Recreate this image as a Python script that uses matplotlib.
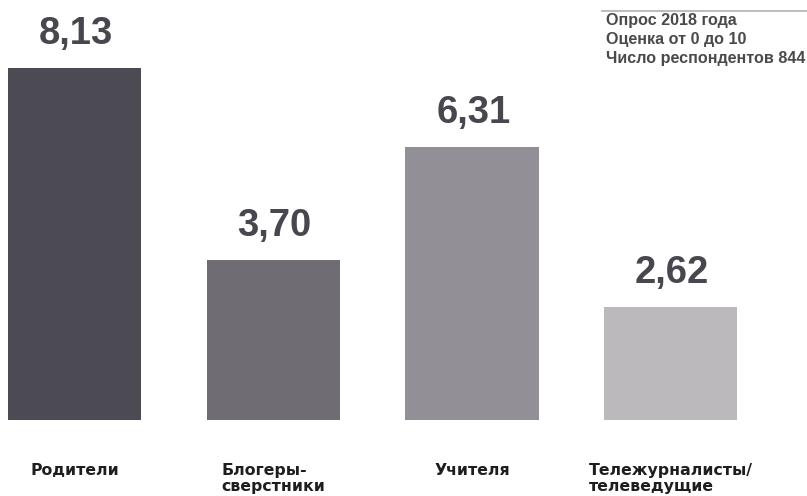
import matplotlib
matplotlib.use("Agg")
import matplotlib.pyplot as plt
from matplotlib.lines import Line2D

categories = ["Родители", "Блогеры-\nсверстники", "Учителя", "Тележурналисты/\nтелеведущие"]
values = [8.13, 3.70, 6.31, 2.62]
value_labels = ["8,13", "3,70", "6,31", "2,62"]
bar_colors = ["#4c4a52", "#6f6c74", "#938f97", "#bbb9bc"]
note_lines = ["Опрос 2018 года", "Оценка от 0 до 10", "Число респондентов 844"]

W, H = 807, 496
fig = plt.figure(figsize=(W / 100, H / 100), dpi=100)
fig.patch.set_facecolor("white")

# plotting area: bars sit on y = 420 px, top edge of figure
ax = fig.add_axes([0, 76 / H, 1, 420 / H])
ax.set_xlim(-0.375, 3.686)
ax.set_ylim(0, 9.7)
ax.axis("off")

x = list(range(len(values)))
ax.bar(x, values, width=0.67, color=bar_colors, linewidth=0)

for xi, v, lab in zip(x, values, value_labels):
    ax.annotate(lab, (xi, v), xytext=(1, 17), textcoords="offset points",
                ha="center", va="baseline", fontsize=27.5, fontweight="bold",
                family="Liberation Sans", color="#48464e")

for xi, cat in zip(x, categories):
    ax.annotate(cat, (xi, 0), xytext=(0, -31), textcoords="offset points",
                ha="center", va="top", multialignment="left",
                fontsize=11.3, fontweight="bold", family="DejaVu Sans",
                color="#1e1e1e", linespacing=1.1)

# note block in the top-right corner
fig.add_artist(Line2D([602 / W, 1], [1 - 10.7 / H, 1 - 10.7 / H],
                      color="#b0b0b0", linewidth=1.2))
for i, line in enumerate(note_lines):
    fig.text(606 / W, 1 - (25 + 19 * i) / H, line, ha="left", va="baseline",
             fontsize=11.6, fontweight="bold", family="Liberation Sans",
             color="#4a4a4a")

fig.savefig("out.png", dpi=100, facecolor="white")
